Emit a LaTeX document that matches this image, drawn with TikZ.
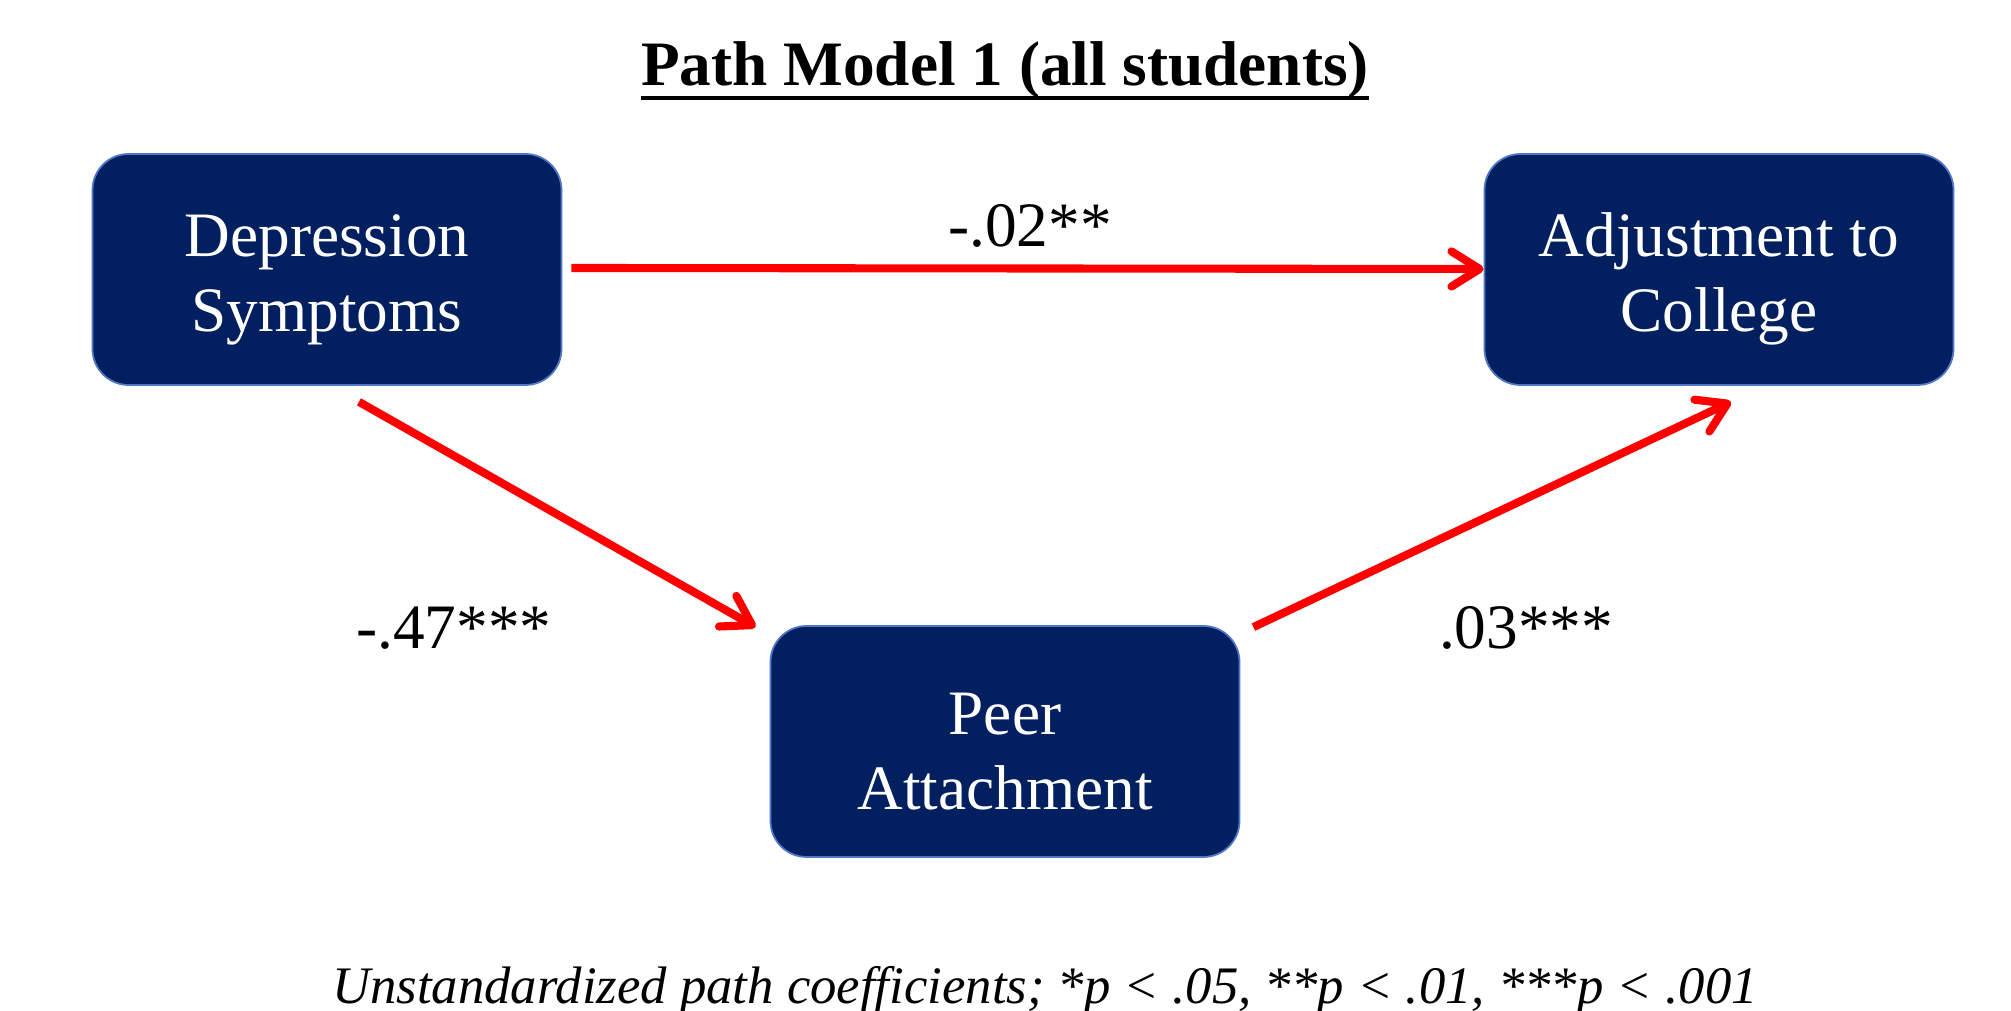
\documentclass[tikz,border=0pt]{standalone}
\usepackage{fontspec}
\setmainfont{Liberation Serif}
\usetikzlibrary{arrows.meta}
\definecolor{boxnavy}{RGB}{2,32,96}
\definecolor{boxedge}{RGB}{80,120,200}

\begin{document}
\begin{tikzpicture}[
	varbox/.style={draw=boxedge, line width=0.5pt, fill=boxnavy, rounded corners=0.36cm,
		minimum width=4.69cm, minimum height=2.31cm, align=center, text=white,
		text height=39pt, font=\fontsize{18}{21.3}\selectfont},
	coefarrow/.style={draw=red, line width=2.3pt,
		-{Straight Barb[length=8pt,width=10pt,line cap=round,line join=round]}},
	coeflabel/.style={font=\fontsize{18}{21.3}\selectfont}
]
	%%%%% START %%%%%
	\useasboundingbox (0, 0) rectangle (20.11, 10.11);
	
	\node[font=\bfseries\fontsize{18}{21.3}\selectfont, anchor=base, inner sep=0pt] (title) at (10.05, 9.25) {Path Model 1 (all students)};
	\draw[line width=1.1pt] ([yshift=-0.12cm]title.base west) -- ([yshift=-0.12cm]title.base east);
	
	\node[varbox] (dep) at (3.27, 7.415) {Depression\\Symptoms};
	\node[varbox] (adj) at (17.19, 7.415) {Adjustment to\\College};
	\node[varbox] (peer) at (10.05, 2.695) {Peer\\Attachment};
	
	\draw[coefarrow] ([xshift=0.09cm, yshift=0.015cm]dep.east) -- ([yshift=0.005cm]adj.west);
	\draw[coefarrow] ([xshift=0.32cm, yshift=-0.16cm]dep.south) -- ([xshift=-0.14cm, yshift=-0.02cm]peer.north west);
	\draw[coefarrow] ([xshift=0.13cm, yshift=-0.02cm]peer.north east) -- ([xshift=0.12cm, yshift=-0.16cm]adj.south);
	
	\node[coeflabel] (c1) at (10.30, 7.85) {-.02**};
	\node[coeflabel] (c2) at (4.54, 3.83) {-.47***};
	\node[coeflabel] (c3) at (15.26, 3.83) {.03***};
	
	\node[font=\itshape\fontsize{15}{18}\selectfont, anchor=base] (note) at (10.45, 0.07) {Unstandardized path coefficients; *p < .05, **p < .01, ***p < .001};
	%%%%% END %%%%%
\end{tikzpicture}
\end{document}
